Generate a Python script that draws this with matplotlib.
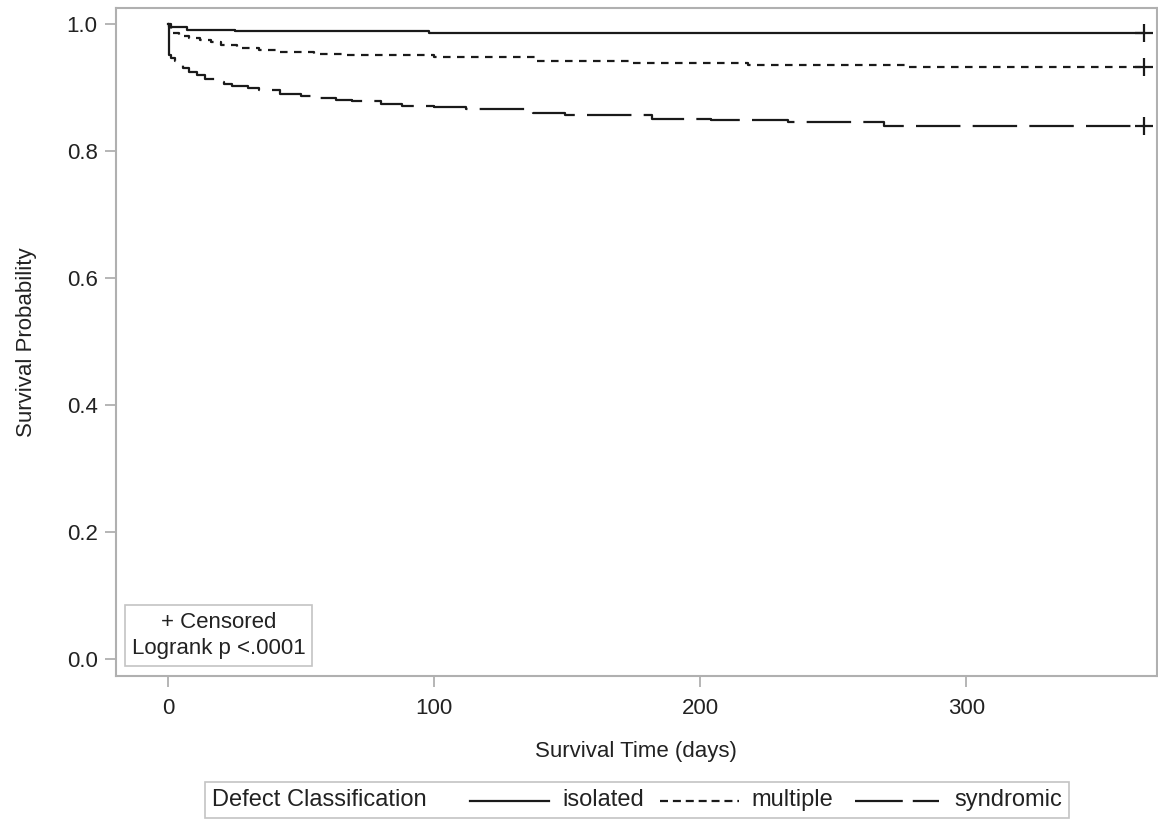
import matplotlib
matplotlib.use("Agg")
import matplotlib.pyplot as plt
from matplotlib.lines import Line2D
from matplotlib.offsetbox import AnchoredOffsetbox, HPacker, TextArea, DrawingArea

plt.rcParams['font.family'] = ['Liberation Sans', 'DejaVu Sans']

# Kaplan-Meier step values
iso_t = [0, 0.5, 7, 25, 98, 367]
iso_s = [1.0, 0.996, 0.991, 0.989, 0.986, 0.986]

mul_t = [0, 1, 4, 8, 12, 16, 20, 26, 34, 42, 55, 67, 100, 138, 174, 218, 278, 367]
mul_s = [1.0, 0.986, 0.981, 0.978, 0.975, 0.971, 0.967, 0.962, 0.959, 0.956,
         0.953, 0.951, 0.948, 0.942, 0.939, 0.936, 0.933, 0.933]

syn_t = [0, 0.3, 1, 2.6, 4, 5.7, 8, 11, 14, 18, 21, 24, 30, 34, 42, 50, 56, 63,
         69, 80, 88, 100, 112, 137, 149, 182, 204, 233, 269, 367]
syn_s = [1.0, 0.951, 0.947, 0.941, 0.935, 0.931, 0.925, 0.919, 0.914, 0.909,
         0.906, 0.903, 0.899, 0.896, 0.890, 0.887, 0.884, 0.881, 0.878, 0.874,
         0.871, 0.869, 0.866, 0.860, 0.856, 0.851, 0.849, 0.846, 0.840, 0.839]

censor_t = 367
groups = ['isolated', 'multiple', 'syndromic']
styles = ['-', (0, (3.4, 2.9)), (0, (20, 5.5))]
leg_styles = ['-', (0, (3.6, 2.2)), (0, (21.5, 4.5))]

gray = '#b0b0b0'
ink = '#222222'
fs = 16
leg_fs = 17
px = 0.72  # points per pixel at dpi 100

fig = plt.figure(figsize=(11.58, 8.19), dpi=100)
ax = fig.add_axes([115.7 / 1158, 1 - 676 / 819, (1157 - 115.7) / 1158, (676 - 8) / 819])

for t, s, ls in zip([iso_t, mul_t, syn_t], [iso_s, mul_s, syn_s], styles):
    ax.plot(t, s, drawstyle='steps-post', color='#1a1a1a', lw=1.6, linestyle=ls)
    ax.plot([censor_t], [s[-1]], marker='+', color='#1a1a1a', ms=13, mew=1.6, ls='none')

ax.set_xlim(-19.7, 371.7)
ax.set_ylim(-0.0268, 1.0252)
ax.set_xticks([0, 100, 200, 300])
ax.set_yticks([0.0, 0.2, 0.4, 0.6, 0.8, 1.0])
ax.set_yticklabels(['0.0', '0.2', '0.4', '0.6', '0.8', '1.0'])
for sp in ax.spines.values():
    sp.set_color(gray)
    sp.set_linewidth(1.5)
ax.tick_params(colors=gray, labelcolor=ink, labelsize=fs, length=8, width=1.3)
ax.tick_params(axis='x', pad=8)
ax.tick_params(axis='y', pad=5)
ax.set_xlabel('Survival Time (days)', fontsize=fs, color=ink, labelpad=16)
ax.set_ylabel('Survival Probability', fontsize=fs, color=ink, labelpad=21)

# inset box
box_txt = TextArea('+ Censored\nLogrank p <.0001',
                   textprops=dict(fontsize=fs, color=ink, multialignment='center', linespacing=1.35))
ab = AnchoredOffsetbox(loc='lower left', child=box_txt, pad=0.3, borderpad=0,
                       prop=dict(size=fs), frameon=True,
                       bbox_to_anchor=(0.009, 0.015), bbox_transform=ax.transAxes)
ab.patch.set_edgecolor('#c4c4c4')
ab.patch.set_linewidth(1.2)
ax.add_artist(ab)

# bottom legend
def sample(ls, left, length, right):
    da = DrawingArea((left + length + right) * px, 10, 0, 0)
    da.add_artist(Line2D([left * px, (left + length) * px], [4, 4],
                         color='#1a1a1a', lw=1.6, linestyle=ls))
    return da

children = [TextArea('Defect Classification', textprops=dict(fontsize=leg_fs, color=ink))]
gaps = [(44, 79, 13), (16, 79, 13), (21, 84, 16)]
for name, ls, (l, n, r) in zip(groups, leg_styles, gaps):
    children.append(sample(ls, l, n, r))
    children.append(TextArea(name, textprops=dict(fontsize=leg_fs, color=ink)))
pack = HPacker(children=children, align='center', pad=0, sep=0)
leg = AnchoredOffsetbox(loc='lower center', child=pack, pad=0.3, borderpad=0,
                        prop=dict(size=fs), frameon=True,
                        bbox_to_anchor=(637 / 1158, 1.5 / 819),
                        bbox_transform=fig.transFigure)
leg.patch.set_edgecolor('#c4c4c4')
leg.patch.set_linewidth(1.2)
fig.add_artist(leg)

fig.savefig('out.png', dpi=100)
